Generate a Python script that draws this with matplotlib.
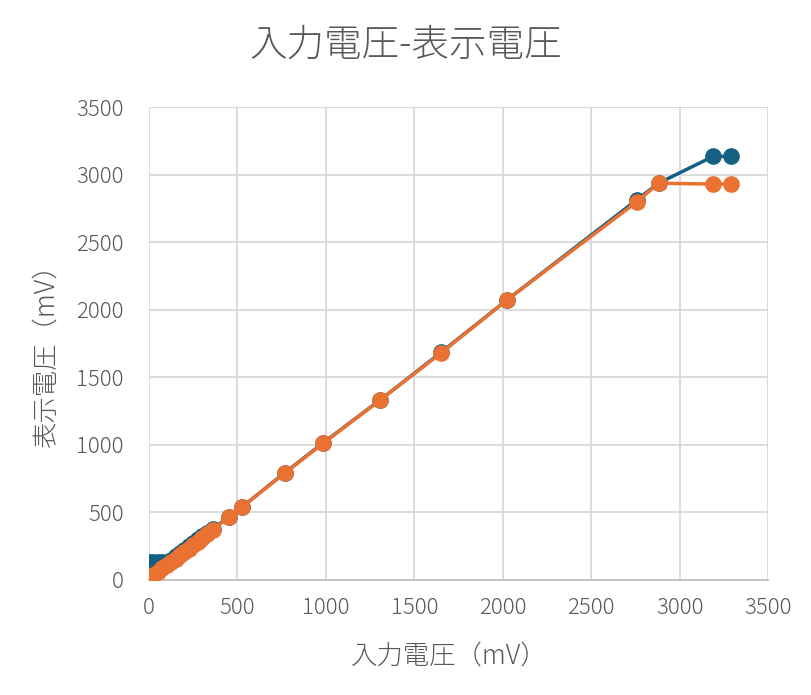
import matplotlib
matplotlib.use("Agg")
import matplotlib.pyplot as plt

plt.rcParams['font.family'] = ['Noto Sans CJK JP', 'DejaVu Sans']
plt.rcParams['font.weight'] = 'light'

title = "入力電圧-表示電圧"
xlabel = "入力電圧（mV）"
ylabel = "表示電圧（mV）"

# series 1 (blue)
blue_x = [0, 25, 50, 75, 100, 125, 150, 175, 200, 225, 250, 275, 300, 330, 360,
          452, 526, 769, 984, 1307, 1652, 2025, 2760, 2881, 3190, 3290]
blue_y = [130, 130, 130, 130, 135, 150, 175, 200, 225, 250, 275, 305, 325, 350, 380,
          466, 540, 795, 1014, 1332, 1685, 2073, 2815, 2936, 3135, 3135]

# series 2 (orange)
orange_x = [0, 25, 50, 75, 100, 125, 150, 175, 200, 225, 250, 275, 300, 330, 360,
            452, 526, 769, 984, 1307, 1652, 2025, 2760, 2881, 3190, 3290]
orange_y = [10, 35, 60, 85, 108, 132, 157, 182, 206, 231, 256, 282, 307, 340, 372,
            466, 540, 792, 1010, 1332, 1680, 2073, 2800, 2936, 2930, 2930]

xticks = [0, 500, 1000, 1500, 2000, 2500, 3000, 3500]
yticks = [0, 500, 1000, 1500, 2000, 2500, 3000, 3500]

BLUE = "#156082"
ORANGE = "#E97132"
TXT = "#595959"

fig = plt.figure(figsize=(8.11, 6.95), dpi=100)
ax = fig.add_axes([0.1837, 0.1655, 0.947 - 0.1837, 0.846 - 0.1655])

ax.plot(blue_x, blue_y, color=BLUE, lw=2.5, marker='o', ms=11, zorder=3)
ax.plot(orange_x, orange_y, color=ORANGE, lw=2.5, marker='o', ms=11, zorder=4)

ax.set_xlim(0, 3500)
ax.set_ylim(0, 3500)
ax.set_xticks(xticks)
ax.set_yticks(yticks)
ax.grid(True, color="#D9D9D9", lw=1.3, zorder=0)
ax.set_axisbelow(True)
for s in ['top', 'right', 'left']:
    ax.spines[s].set_visible(False)
ax.spines['bottom'].set_color("#BFBFBF")
ax.spines['bottom'].set_linewidth(1.3)
ax.tick_params(length=0, labelsize=16, colors=TXT)
ax.tick_params(axis='y', pad=18)
ax.tick_params(axis='x', pad=12)

fig.text(0.5, 0.935, title, ha='center', va='center', fontsize=27, color=TXT)
fig.text(0.554, 0.057, xlabel, ha='center', va='center', fontsize=19, color=TXT)
fig.text(0.056, 0.497, ylabel, ha='center', va='center', fontsize=19, color=TXT, rotation=90)

fig.savefig("out.png", dpi=100, facecolor='white')
